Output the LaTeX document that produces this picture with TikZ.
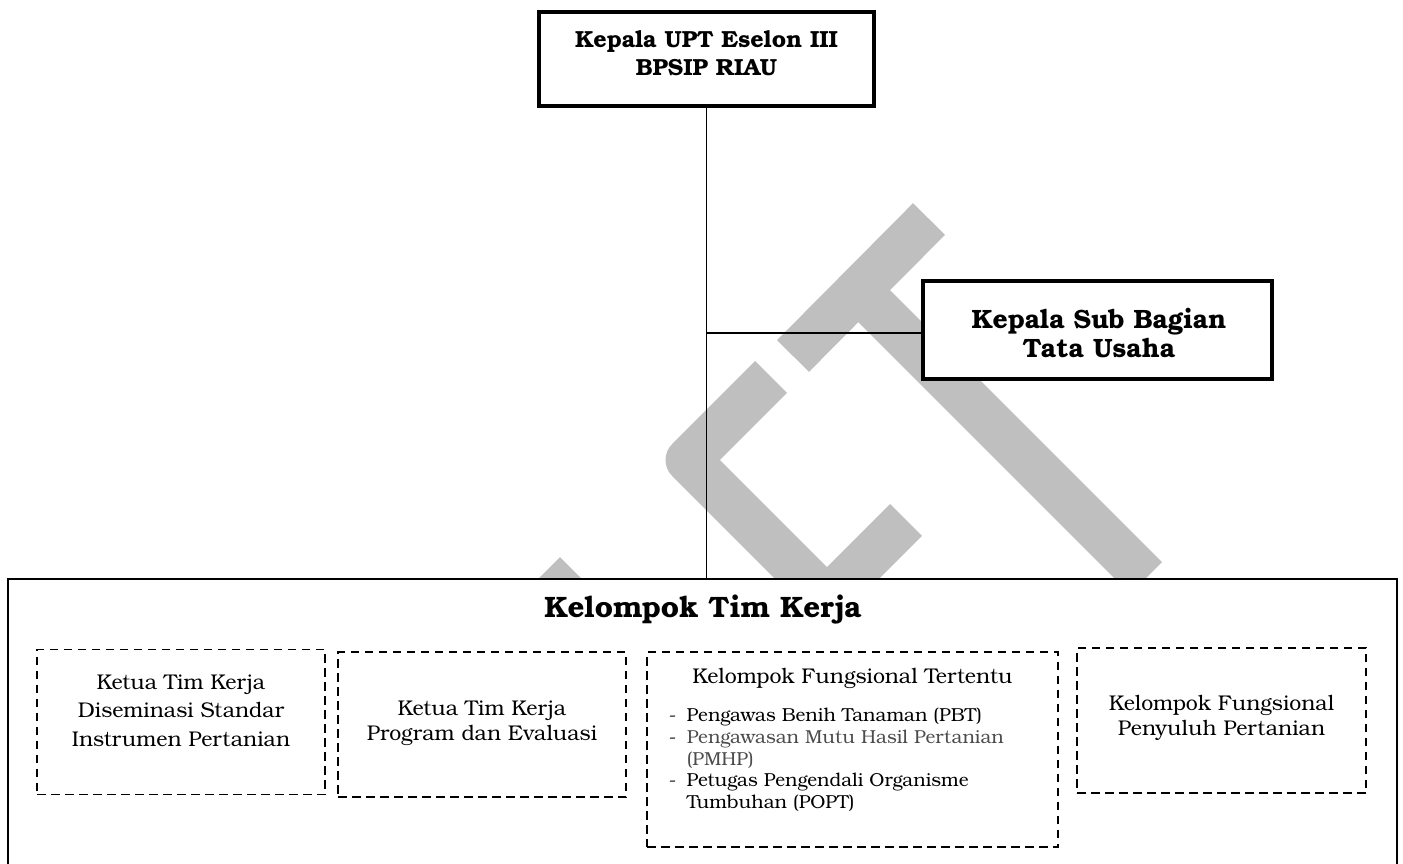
\documentclass[tikz,border=0pt]{standalone}
\usepackage{fontspec}
\setmainfont{texgyrebonum}[Extension=.otf, UprightFont=*-regular, BoldFont=*-bold]
\usetikzlibrary{positioning}

\begin{document}
\begin{tikzpicture}[x=1pt, y=-1pt, line width=1.5pt,
  box/.style = {draw, line width=4pt, fill=white, inner sep=0pt},
  frame/.style = {draw, line width=2pt, fill=white, inner sep=0pt},
  dbox/.style = {draw, line width=1.8pt, dash pattern=on 8.5pt off 5.5pt, inner sep=0pt},
  head/.style = {anchor=base, align=center, inner sep=0pt, font=\fontsize{23.3}{28}\selectfont\bfseries},
  txt/.style = {anchor=base, align=center, inner sep=0pt, font=\fontsize{21.3}{28.5}\selectfont},
  wmark/.style = {draw=black!25, line width=45pt, line join=round}]
\useasboundingbox (0,0) rectangle (1403,863);
\clip (0,0) rectangle (1403,863);
\draw[wmark] (929,219) -- (793,356);
\draw[wmark] (859,291) -- (1146,578);
\draw[wmark] (771,377) -- (688,460) -- (827,599) -- (906,520);
\draw[wmark] (576,573) -- (476,673);
\node[box, minimum width=335, minimum height=94] (kepala) at (706.5,59) {};
\node[box, minimum width=349, minimum height=98] (tu) at (1097.5,330) {};
\node[frame, minimum width=1389, minimum height=321] (tim) at (702.5,739.5) {};
\node[dbox, minimum width=288, minimum height=145] (dsi) at (181,722) {};
\node[dbox, minimum width=288, minimum height=145] (pev) at (482,724.5) {};
\node[dbox, minimum width=411, minimum height=195] (jft) at (852.5,749.5) {};
\node[dbox, minimum width=289, minimum height=145] (ppl) at (1221.5,720.5) {};
\node[head] (kepalatxt) at (706.5,75) {Kepala UPT Eselon III\\BPSIP RIAU};
\node[head, font=\fontsize{26.5}{29}\selectfont\bfseries] (tutxt) at (1099,357) {Kepala Sub Bagian\\Tata Usaha};
\node[head, font=\fontsize{29.5}{34}\selectfont\bfseries] (timtxt) at (703,617) {Kelompok Tim Kerja};
\node[txt] (dsitxt) at (181,746) {Ketua Tim Kerja\\Diseminasi Standar\\Instrumen Pertanian};
\node[txt, font=\fontsize{21.3}{25}\selectfont] (pevtxt) at (482,740) {Ketua Tim Kerja\\Program dan Evaluasi};
\node[txt] (jfttxt) at (852.5,683.3) {Kelompok Fungsional Tertentu};
\node[anchor=base west, inner sep=0pt, font=\fontsize{18.8}{21.7}\selectfont] (jftlist) at (668,721.7)
  {\begin{tabular}[t]{@{}p{18pt}@{}l@{}}
  - & Pengawas Benih Tanaman (PBT)\\
  - & \textcolor{black!70}{Pengawasan Mutu Hasil Pertanian}\\
    & \textcolor{black!70}{(PMHP)}\\
  - & Petugas Pengendali Organisme\\
    & Tumbuhan (POPT)
  \end{tabular}};
\node[txt, font=\fontsize{21.3}{25}\selectfont] (ppltxt) at (1221.5,735.7) {Kelompok Fungsional\\Penyuluh Pertanian};
\coordinate (cabang) at (kepala.south |- 0,333);
\draw (kepala.south) -- (kepala.south |- tim.north);
\draw (cabang) -- (cabang -| tu.west);
\end{tikzpicture}
\end{document}
